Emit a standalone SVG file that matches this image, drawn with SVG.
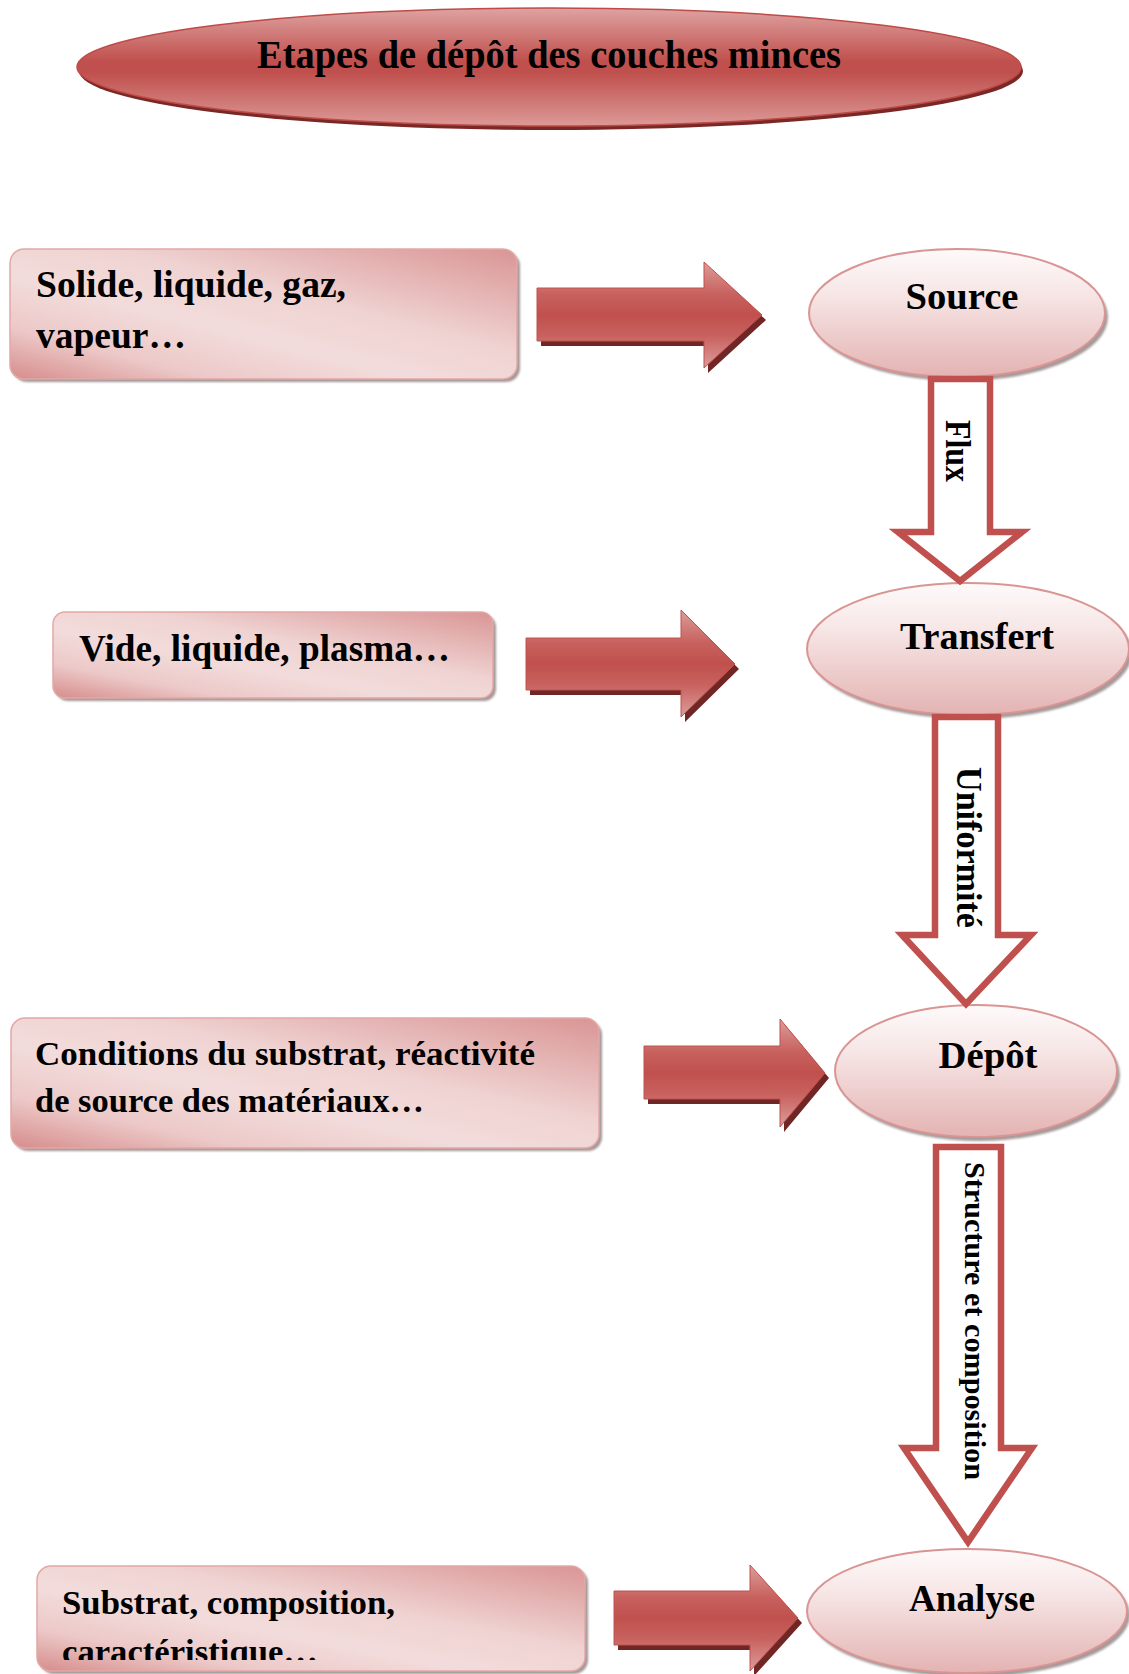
<svg xmlns="http://www.w3.org/2000/svg" width="1129" height="1674" viewBox="0 0 1129 1674">
<style>
.t{font-family:"Liberation Serif","Times New Roman",serif;font-weight:bold;fill:#000}
.box{fill:url(#boxg);stroke:#e2a8a6;stroke-width:1.5}
.boxsh{fill:#a59797;filter:url(#blur)}
.ell{fill:url(#ellg);stroke:#d99594;stroke-width:2}
.ellsh{fill:#a59a9a;filter:url(#blur)}
.rarr{fill:url(#redg);stroke:#c0504d;stroke-width:1}
.rarrsh{fill:#6f2624}
.darr{fill:#fff;stroke:#c0504d;stroke-width:6.5;stroke-linejoin:miter;stroke-miterlimit:10}
</style>
<defs>
<filter id="blur" x="-5%" y="-5%" width="110%" height="110%"><feGaussianBlur stdDeviation="1.2"/></filter>
<linearGradient id="boxg" x1="1" y1="0" x2="0" y2="1">
<stop offset="0" stop-color="#d99594"/>
<stop offset="0.4" stop-color="#efd3d2"/>
<stop offset="0.6" stop-color="#f2dcdb"/>
<stop offset="0.8" stop-color="#ecc9c8"/>
<stop offset="1" stop-color="#d68c8b"/>
</linearGradient>
<linearGradient id="ellg" x1="0" y1="0" x2="0" y2="1">
<stop offset="0" stop-color="#fefafa"/>
<stop offset="0.35" stop-color="#f7e6e6"/>
<stop offset="1" stop-color="#e3b3b2"/>
</linearGradient>
<linearGradient id="redg" x1="0" y1="0" x2="0" y2="1">
<stop offset="0" stop-color="#dc9d9b"/>
<stop offset="0.3" stop-color="#c8625f"/>
<stop offset="0.5" stop-color="#c0504d"/>
<stop offset="0.7" stop-color="#c8625f"/>
<stop offset="1" stop-color="#dc9d9b"/>
</linearGradient>
<linearGradient id="titleg" x1="0" y1="0" x2="0" y2="1">
<stop offset="0" stop-color="#dea3a1"/>
<stop offset="0.45" stop-color="#c0504d"/>
<stop offset="0.55" stop-color="#c0504d"/>
<stop offset="1" stop-color="#dc9a98"/>
</linearGradient>
<clipPath id="clip4"><rect x="0" y="1560" width="700" height="100"/></clipPath>
</defs>

<g id="title">
<ellipse cx="551" cy="71" rx="472" ry="59" fill="#7a2826"/>
<ellipse cx="549" cy="67" rx="472" ry="59" fill="url(#titleg)" stroke="#bf4b48" stroke-width="1.5"/>
<text class="t" x="549" y="68" font-size="39" text-anchor="middle" textLength="584" lengthAdjust="spacingAndGlyphs">Etapes de dépôt des couches minces</text>
</g>

<g id="box1">
<rect class="boxsh" x="13" y="252" width="507" height="130" rx="14"/>
<rect class="box" x="10" y="249" width="507" height="130" rx="14"/>
<text class="t" x="36" y="297" font-size="37" textLength="310" lengthAdjust="spacingAndGlyphs">Solide, liquide, gaz,</text>
<text class="t" x="36" y="348" font-size="37" textLength="150" lengthAdjust="spacingAndGlyphs">vapeur…</text>
</g>

<g id="box2">
<rect class="boxsh" x="56" y="615" width="440" height="86" rx="12"/>
<rect class="box" x="53" y="612" width="440" height="86" rx="12"/>
<text class="t" x="79" y="661" font-size="37" textLength="371" lengthAdjust="spacingAndGlyphs">Vide, liquide, plasma…</text>
</g>

<g id="box3">
<rect class="boxsh" x="14" y="1021" width="588" height="130" rx="14"/>
<rect class="box" x="11" y="1018" width="588" height="130" rx="14"/>
<text class="t" x="35" y="1065" font-size="34" textLength="500" lengthAdjust="spacingAndGlyphs">Conditions du substrat, réactivité</text>
<text class="t" x="35" y="1112" font-size="34" textLength="389" lengthAdjust="spacingAndGlyphs">de source des matériaux…</text>
</g>

<g id="box4">
<rect class="boxsh" x="40" y="1569" width="548" height="105" rx="14"/>
<rect class="box" x="37" y="1566" width="548" height="105" rx="14"/>
<g clip-path="url(#clip4)">
<text class="t" x="62" y="1614" font-size="34" textLength="333" lengthAdjust="spacingAndGlyphs">Substrat, composition,</text>
<text class="t" x="62" y="1663" font-size="34" textLength="256" lengthAdjust="spacingAndGlyphs">caractéristique…</text>
</g>
</g>

<g id="source">
<ellipse class="ellsh" cx="960" cy="317" rx="148" ry="64"/>
<ellipse class="ell" cx="957" cy="313" rx="148" ry="64"/>
<text class="t" x="962" y="309" font-size="37" text-anchor="middle" textLength="113" lengthAdjust="spacingAndGlyphs">Source</text>
</g>

<g id="transfert">
<ellipse class="ellsh" cx="971" cy="653" rx="161" ry="66"/>
<ellipse class="ell" cx="968" cy="649" rx="161" ry="66"/>
<text class="t" x="977" y="649" font-size="37" text-anchor="middle" textLength="154" lengthAdjust="spacingAndGlyphs">Transfert</text>
</g>

<g id="depot">
<ellipse class="ellsh" cx="979" cy="1075" rx="141" ry="66"/>
<ellipse class="ell" cx="976" cy="1071" rx="141" ry="66"/>
<text class="t" x="988" y="1068" font-size="37" text-anchor="middle" textLength="99" lengthAdjust="spacingAndGlyphs">Dépôt</text>
</g>

<g id="analyse">
<ellipse class="ellsh" cx="970" cy="1615" rx="160" ry="62"/>
<ellipse class="ell" cx="967" cy="1611" rx="160" ry="62"/>
<text class="t" x="972" y="1611" font-size="37" text-anchor="middle" textLength="126" lengthAdjust="spacingAndGlyphs">Analyse</text>
</g>

<g id="connectors">
<polygon class="rarrsh" points="541,293 708,293 708,267 766,320 708,373 708,346 541,346"/>
<polygon class="rarr" points="537,288 704,288 704,262 762,315 704,368 704,341 537,341"/>

<polygon class="rarrsh" points="530,643 685,643 685,615 739,669 685,722 685,695 530,695"/>
<polygon class="rarr" points="526,638 681,638 681,610 735,664 681,717 681,690 526,690"/>

<polygon class="rarrsh" points="648,1051 784,1051 784,1024 829,1078 784,1132 784,1104 648,1104"/>
<polygon class="rarr" points="644,1046 780,1046 780,1019 825,1073 780,1127 780,1099 644,1099"/>

<polygon class="rarrsh" points="618,1596 754,1596 754,1570 802,1623 754,1676 754,1650 618,1650"/>
<polygon class="rarr" points="614,1591 750,1591 750,1565 798,1618 750,1671 750,1645 614,1645"/>

<path class="darr" d="M931,379 H990 V532 H1022 L960,581 L898,532 H931 Z"/>
<text class="t" transform="translate(946,420) rotate(90)" font-size="36" textLength="62" lengthAdjust="spacingAndGlyphs">Flux</text>

<path class="darr" d="M935,717 H998 V935 H1031 L966,1004 L902,935 H935 Z"/>
<text class="t" transform="translate(957,767) rotate(90)" font-size="36" textLength="161" lengthAdjust="spacingAndGlyphs">Uniformité</text>

<path class="darr" d="M936,1147 H1001 V1448 H1032 L968,1542 L904,1448 H936 Z"/>
<text class="t" transform="translate(965,1162) rotate(90)" font-size="30" textLength="318" lengthAdjust="spacingAndGlyphs">Structure et composition</text>
</g>
</svg>
